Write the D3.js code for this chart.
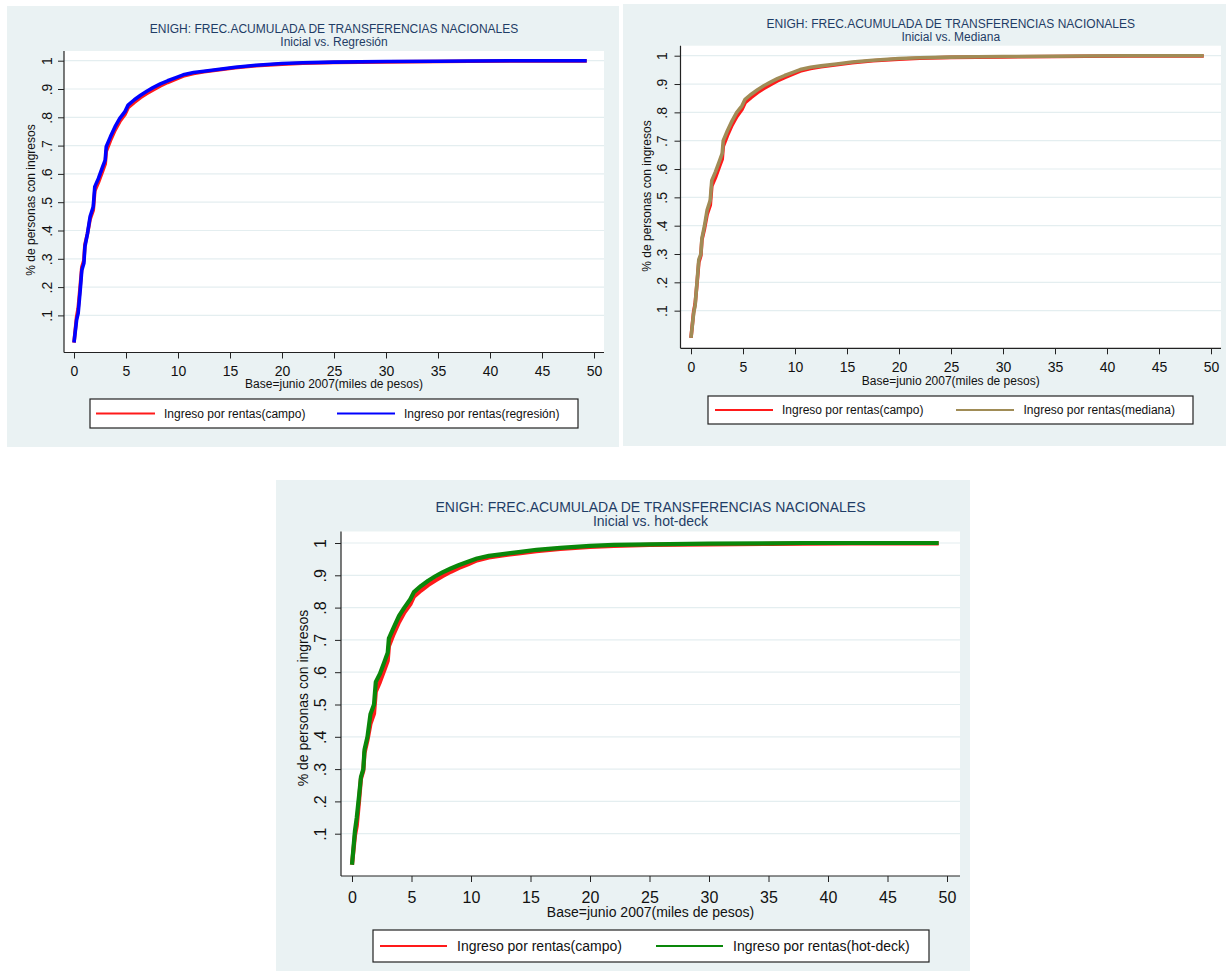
<!DOCTYPE html>
<html>
<head>
<meta charset="utf-8">
<script src="https://cdn.jsdelivr.net/npm/d3@7"></script>
<style>
  html, body { margin: 0; padding: 0; background: #ffffff; }
  svg { display: block; font-family: "Liberation Sans", Arial, sans-serif; }
</style>
</head>
<body>
<svg id="chart" width="1232" height="972"></svg>
<script>
// ---------- DATA ----------
const titleMain = "ENIGH: FREC.ACUMULADA DE TRANSFERENCIAS NACIONALES";
const subtitles = ["Inicial vs. Regresión", "Inicial vs. Mediana", "Inicial vs. hot-deck"];
const yAxisTitle = "% de personas con ingresos";
const xAxisTitle = "Base=junio 2007(miles de pesos)";
const xTicks = [0, 5, 10, 15, 20, 25, 30, 35, 40, 45, 50];
const yTicks = [0.1, 0.2, 0.3, 0.4, 0.5, 0.6, 0.7, 0.8, 0.9, 1];
const yTickLabels = [".1", ".2", ".3", ".4", ".5", ".6", ".7", ".8", ".9", "1"];

// income (thousands of pesos) where the cumulative frequencies were read
const ingreso = [0, 0.25, 0.4, 0.6, 0.75, 0.95, 1.05, 1.3, 1.55, 1.85, 2.0, 2.35, 2.75, 3.0, 3.1,
                 3.5, 3.95, 4.4, 4.9, 5.2, 5.8, 6.4, 7.0, 7.6, 8.3, 9.0, 9.8, 10.5, 11.5, 12.5,
                 14, 15.5, 17.5, 20, 22, 25, 30, 35, 38, 42, 49.3];
const campo    = [0.004, 0.095, 0.125, 0.205, 0.27, 0.295, 0.35, 0.39, 0.44, 0.472, 0.54, 0.57,
                  0.61, 0.635, 0.68, 0.718, 0.755, 0.785, 0.81, 0.834, 0.853, 0.870, 0.884, 0.897,
                  0.911, 0.923, 0.935, 0.946, 0.955, 0.961, 0.968, 0.975, 0.982, 0.988, 0.991,
                  0.994, 0.996, 0.997, 0.998, 0.999, 0.999];
const regresion = [0.004, 0.084, 0.107, 0.19, 0.26, 0.284, 0.343, 0.39, 0.449, 0.484, 0.555, 0.584,
                  0.625, 0.649, 0.696, 0.731, 0.767, 0.796, 0.82, 0.843, 0.862, 0.878, 0.892, 0.905,
                  0.918, 0.929, 0.940, 0.950, 0.958, 0.963, 0.970, 0.977, 0.984, 0.990, 0.993,
                  0.995, 0.997, 0.998, 0.999, 1.0, 1.0];
const mediana  = [0.004, 0.09, 0.12, 0.21, 0.28, 0.30, 0.355, 0.40, 0.455, 0.49, 0.56, 0.59,
                  0.63, 0.655, 0.70, 0.735, 0.77, 0.80, 0.823, 0.846, 0.864, 0.880, 0.894, 0.906,
                  0.919, 0.930, 0.941, 0.951, 0.959, 0.964, 0.971, 0.978, 0.984, 0.990, 0.993,
                  0.995, 0.997, 0.998, 0.999, 1.0, 1.0];
const hotdeck  = [0.004, 0.11, 0.15, 0.22, 0.275, 0.30, 0.36, 0.40, 0.47, 0.50, 0.57, 0.595,
                  0.635, 0.66, 0.705, 0.738, 0.774, 0.80, 0.826, 0.848, 0.867, 0.883, 0.897, 0.909,
                  0.921, 0.932, 0.943, 0.952, 0.960, 0.965, 0.972, 0.979, 0.985, 0.991, 0.994,
                  0.996, 0.998, 0.999, 1.0, 1.0, 1.0];
const legendCampo = "Ingreso por rentas(campo)";
const legendOthers = ["Ingreso por rentas(regresión)", "Ingreso por rentas(mediana)", "Ingreso por rentas(hot-deck)"];
const otherSeries = [regresion, mediana, hotdeck];

// ---------- LAYOUT / STYLE ----------
const colors = { campo: "#ff1a1a", others: ["#0000ff", "#a08c56", "#0a870a"] };
const bgColor = "#eaf2f3";
const titleColor = "#1f3d66";

const panels = [
  { bg: [7, 6, 619, 447], plot: [64, 51, 604, 352.5], xr: [74, 594], yr: [343.7, 60.7],
    titleY: 28.7, subY: 42, ytX: 31, ytY: 200, tickLblX: 46.6, xTickLblY: 371, xtY: 384,
    legend: [90, 399, 578, 428], k1: [96, 155], t1: 164, k2: [337, 395], t2: 404, fs: 12, tfs: 14, lw: 3.6 },
  { bg: [623, 4, 1226, 446], plot: [680.5, 45.7, 1221, 348.3], xr: [691, 1211], yr: [339, 55.7],
    titleY: 23.3, subY: 36.7, ytX: 647, ytY: 196, tickLblX: 662, xTickLblY: 367, xtY: 381,
    legend: [708, 396, 1193, 424], k1: [715, 773], t1: 782, k2: [956, 1014], t2: 1023.5, fs: 12, tfs: 14, lw: 3.6 },
  { bg: [276, 480, 970, 971], plot: [341, 531.5, 960, 876], xr: [352, 947], yr: [866, 543],
    titleY: 507.3, subY: 521.3, ytX: 303, ytY: 698, tickLblX: 320, xTickLblY: 897, xtY: 912,
    legend: [373, 930, 929, 962], k1: [380, 447], t1: 457, k2: [656, 723], t2: 733, fs: 14, tfs: 16, lw: 4.2 }
];

const svg = d3.select("#chart");

panels.forEach((p, i) => {
  const g = svg.append("g");
  // background
  g.append("rect").attr("x", p.bg[0]).attr("y", p.bg[1])
    .attr("width", p.bg[2] - p.bg[0]).attr("height", p.bg[3] - p.bg[1]).attr("fill", bgColor);
  // plot region
  g.append("rect").attr("x", p.plot[0]).attr("y", p.plot[1])
    .attr("width", p.plot[2] - p.plot[0]).attr("height", p.plot[3] - p.plot[1]).attr("fill", "#ffffff");

  const x = d3.scaleLinear().domain([0, 50]).range(p.xr);
  const y = d3.scaleLinear().domain([0, 1]).range(p.yr);
  const cx = (p.plot[0] + p.plot[2]) / 2;

  // gridlines
  g.append("g").selectAll("line").data(yTicks).join("line")
    .attr("x1", p.plot[0]).attr("x2", p.plot[2])
    .attr("y1", d => y(d)).attr("y2", d => y(d))
    .attr("stroke", "#e4eef0").attr("stroke-width", 1.2);

  // titles
  g.append("text").attr("x", cx).attr("y", p.titleY + p.fs * 0.36)
    .attr("text-anchor", "middle").attr("font-size", p.fs).attr("fill", titleColor).text(titleMain);
  g.append("text").attr("x", cx).attr("y", p.subY + p.fs * 0.36)
    .attr("text-anchor", "middle").attr("font-size", p.fs).attr("fill", titleColor).text(subtitles[i]);

  // x axis
  const xAxis = d3.axisBottom(x).tickValues(xTicks).tickSize(6).tickSizeOuter(0).tickFormat(d3.format("d"));
  const gx = g.append("g").attr("transform", `translate(0,${p.plot[3]})`).call(xAxis);
  gx.select(".domain").remove();
  gx.selectAll(".tick line").attr("stroke", "#222");
  gx.selectAll(".tick text").attr("font-size", p.tfs).attr("fill", "#111")
    .attr("font-family", "Liberation Sans, Arial, sans-serif")
    .attr("y", p.xTickLblY - p.plot[3]).attr("dy", "0.36em");

  // y axis
  const yAxis = d3.axisLeft(y).tickValues(yTicks).tickSize(6).tickSizeOuter(0)
    .tickFormat((d, k) => yTickLabels[k]);
  const gy = g.append("g").attr("transform", `translate(${p.plot[0]},0)`).call(yAxis);
  gy.select(".domain").remove();
  gy.selectAll(".tick line").attr("stroke", "#222");
  gy.selectAll(".tick text").attr("font-size", p.tfs).attr("fill", "#111")
    .attr("font-family", "Liberation Sans, Arial, sans-serif")
    .attr("text-anchor", "middle").attr("x", 0).attr("dy", "0.36em")
    .attr("y", -(p.plot[0] - p.tickLblX))
    .attr("transform", "rotate(-90)");

  // axis lines
  g.append("line").attr("x1", p.plot[0]).attr("x2", p.plot[0]).attr("y1", p.plot[1]).attr("y2", p.plot[3])
    .attr("stroke", "#222").attr("stroke-width", 1.2);
  g.append("line").attr("x1", p.plot[0]).attr("x2", p.plot[2]).attr("y1", p.plot[3]).attr("y2", p.plot[3])
    .attr("stroke", "#222").attr("stroke-width", 1.2);

  // axis titles
  g.append("text").attr("transform", `translate(${p.ytX + p.fs * 0.36},${p.ytY}) rotate(-90)`)
    .attr("text-anchor", "middle").attr("font-size", p.fs).attr("fill", "#111").text(yAxisTitle);
  g.append("text").attr("x", cx).attr("y", p.xtY + p.fs * 0.36)
    .attr("text-anchor", "middle").attr("font-size", p.fs).attr("fill", "#111").text(xAxisTitle);

  // series
  const line = d3.line().x(d => x(d[0])).y(d => y(d[1]));
  const campoPts = ingreso.map((v, k) => [v, campo[k]]);
  const otherPts = ingreso.map((v, k) => [v, otherSeries[i][k]]);
  g.append("path").datum(campoPts).attr("d", line).attr("fill", "none")
    .attr("stroke", colors.campo).attr("stroke-width", p.lw).attr("stroke-linejoin", "round");
  g.append("path").datum(otherPts).attr("d", line).attr("fill", "none")
    .attr("stroke", colors.others[i]).attr("stroke-width", p.lw).attr("stroke-linejoin", "round");

  // legend
  const L = p.legend;
  const ly = (L[1] + L[3]) / 2;
  g.append("rect").attr("x", L[0]).attr("y", L[1]).attr("width", L[2] - L[0]).attr("height", L[3] - L[1])
    .attr("fill", "#ffffff").attr("stroke", "#222").attr("stroke-width", 1.2);
  g.append("line").attr("x1", p.k1[0]).attr("x2", p.k1[1]).attr("y1", ly).attr("y2", ly)
    .attr("stroke", colors.campo).attr("stroke-width", 2);
  g.append("text").attr("x", p.t1).attr("y", ly + p.fs * 0.36).attr("font-size", p.fs).attr("fill", "#111").text(legendCampo);
  g.append("line").attr("x1", p.k2[0]).attr("x2", p.k2[1]).attr("y1", ly).attr("y2", ly)
    .attr("stroke", colors.others[i]).attr("stroke-width", 2);
  g.append("text").attr("x", p.t2).attr("y", ly + p.fs * 0.36).attr("font-size", p.fs).attr("fill", "#111").text(legendOthers[i]);
});
</script>
</body>
</html>
